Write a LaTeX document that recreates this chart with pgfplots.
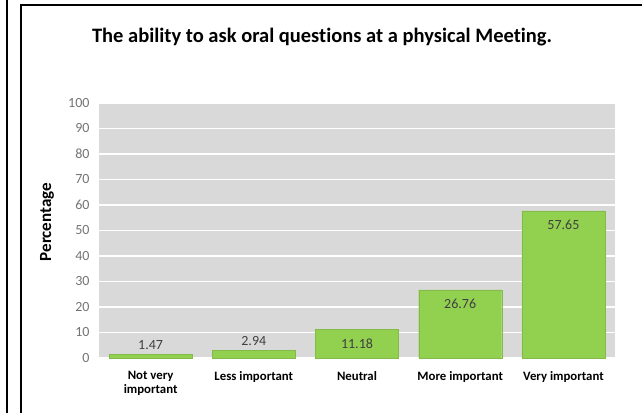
\documentclass[border=0pt]{standalone}
\usepackage{pgfplots}
\pgfplotsset{compat=1.18}
\usepackage{fontspec}
\setmainfont{Carlito}[Ligatures={NoCommon}]
\definecolor{bargreen}{RGB}{146,208,80}
\definecolor{plotbg}{RGB}{217,217,217}
\definecolor{ticktxt}{RGB}{115,115,115}
\definecolor{lbltxt}{RGB}{64,64,64}
\begin{document}
\begin{tikzpicture}[x=1pt,y=1pt]
\useasboundingbox (0,0) rectangle (642,412);
\draw[line width=2.2pt] (7,-1)--(7,413);
\draw[line width=2.8pt] (21,-1)--(21,407)--(643,407);
\node[font=\bfseries\fontsize{20.5}{23}\selectfont] at (322,375) {The ability to ask oral questions at a physical Meet\kern0pt ing.};
\begin{axis}[
  at={(99pt,54pt)}, anchor=south west, scale only axis,
  width=516pt, height=255pt,
  xmin=-0.5, xmax=4.5, ymin=0, ymax=100,
  ytick={0,10,...,100},
  xtick=data,
  xticklabels={{Not very\\important},{Less important},{Neutral},{More important},{Very important}},
  axis background/.style={fill=plotbg},
  axis line style={draw=none},
  major tick length=0pt,
  ymajorgrids,
  grid style={white, line width=1.2pt},
  /pgf/number format/assume math mode=true,
  yticklabel style={font=\fontsize{14}{16}\selectfont, text=ticktxt, xshift=-6pt},
  xticklabel style={font=\bfseries\fontsize{12.8}{14}\selectfont, align=center, yshift=-10pt},
  ylabel={Percentage},
  ylabel style={font=\bfseries\fontsize{17}{19}\selectfont, at={(axis description cs:-0.1008,0.533)}, anchor=center, rotate=0},
  ybar, bar width=83pt,
  visualization depends on={y \as \rawy},
  nodes near coords={\pgfmathprintnumber[fixed,fixed zerofill,precision=2]{\pgfplotspointmeta}},
  nodes near coords style={font=\fontsize{14}{16}\selectfont, text=lbltxt, anchor=center, yshift={\rawy<5 ? 9 : -14}},
  clip=false,
]
\addplot[fill=bargreen, draw=bargreen!90!black, line width=0.3pt] coordinates {(0,1.47) (1,2.94) (2,11.18) (3,26.76) (4,57.65)};
\end{axis}
\end{tikzpicture}
\end{document}
